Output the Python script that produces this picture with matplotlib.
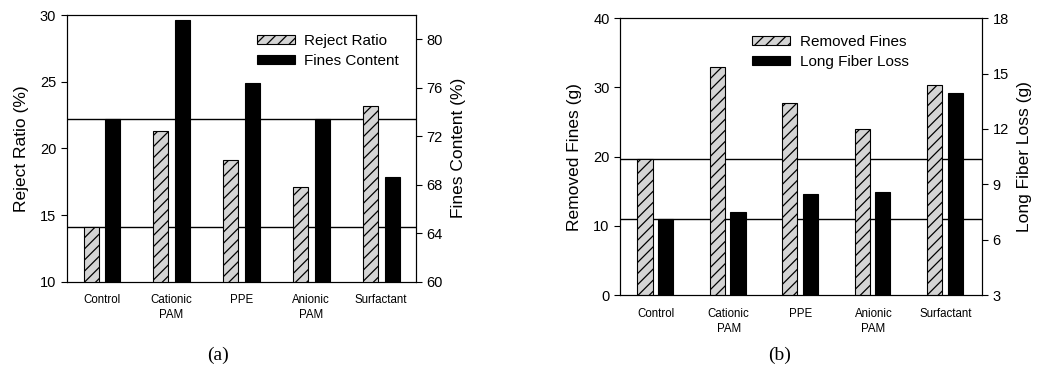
import numpy as np
import matplotlib
matplotlib.use("Agg")
import matplotlib.pyplot as plt

plt.rcParams["font.family"] = ["Liberation Sans", "DejaVu Sans"]
plt.rcParams["hatch.linewidth"] = 0.9

# Data
categories = ["Control", "Cationic\nPAM", "PPE", "Anionic\nPAM", "Surfactant"]
reject_ratio = [14.1, 21.3, 19.1, 17.1, 23.2]        # %, left axis (a)
fines_content = [73.4, 81.6, 76.4, 73.4, 68.6]       # %, right axis (a)
removed_fines = [19.6, 33.0, 27.8, 24.0, 30.3]       # g, left axis (b)
long_fiber_loss = [7.1, 7.5, 8.5, 8.6, 13.95]        # g, right axis (b)

HATCH_FACE = "#d4d4d4"


def draw_panel(rect, left_vals, right_vals, left_lim, right_lim, left_ticks,
               right_ticks, left_label, right_label, names, legend_pos,
               offsets, width):
    fig = plt.gcf()
    ax = fig.add_axes(rect)
    ax2 = ax.twinx()
    x = np.arange(len(categories))

    # reference lines at the control values, both kept behind the bars
    # (the right-axis value is mapped into left-axis units)
    frac = (right_vals[0] - right_lim[0]) / (right_lim[1] - right_lim[0])
    right_in_left = left_lim[0] + frac * (left_lim[1] - left_lim[0])
    ax.axhline(left_vals[0], color="black", lw=1.0, zorder=1)
    ax.axhline(right_in_left, color="black", lw=1.0, zorder=1)

    b1 = ax.bar(x + offsets[0], left_vals, width, color=HATCH_FACE,
                edgecolor="black", hatch="///", lw=0.8, zorder=3,
                label=names[0])
    b2 = ax2.bar(x + offsets[1], right_vals, width, color="black",
                 edgecolor="black", lw=0.8, zorder=3, label=names[1])

    ax.set_xlim(-0.5, len(categories) - 0.5)
    ax.set_ylim(*left_lim)
    ax2.set_ylim(*right_lim)
    ax.set_yticks(left_ticks)
    ax2.set_yticks(right_ticks)
    ax.set_xticks(x)
    ax.set_xticklabels(categories, fontsize=8.3, linespacing=1.35)
    ax.tick_params(axis="x", length=0, pad=9)
    ax.tick_params(axis="y", direction="out", length=4, labelsize=10.5)
    ax2.tick_params(axis="y", direction="out", length=4, labelsize=10.5)
    ax.set_ylabel(left_label, fontsize=12.5, labelpad=8)
    ax2.set_ylabel(right_label, fontsize=12.5, labelpad=6)

    leg = ax.legend([b1, b2], names, loc="upper left",
                    bbox_to_anchor=legend_pos, frameon=False, fontsize=11,
                    handlelength=2.5, handleheight=0.55, handletextpad=0.6,
                    labelspacing=0.4, borderpad=0, borderaxespad=0)
    leg.set_zorder(5)
    return ax, ax2


fig = plt.figure(figsize=(10.37, 3.81), dpi=100)

draw_panel([0.0643, 0.2606, 0.3368, 0.700], reject_ratio, fines_content,
           (10, 30), (60, 82), [10, 15, 20, 25, 30], [60, 64, 68, 72, 76, 80],
           "Reject Ratio (%)", "Fines Content (%)",
           ["Reject Ratio", "Fines Content"], (0.545, 0.93),
           (-0.15, 0.16), 0.215)

draw_panel([0.5979, 0.2257, 0.3491, 0.7262], removed_fines, long_fiber_loss,
           (0, 40), (3, 18), [0, 10, 20, 30, 40], [3, 6, 9, 12, 15, 18],
           "Removed Fines (g)", "Long Fiber Loss (g)",
           ["Removed Fines", "Long Fiber Loss"], (0.365, 0.94),
           (-0.155, 0.13), 0.21)

fig.text(218 / 1037, 1 - 355 / 381, "(a)", ha="center", va="center",
         fontsize=14, family=["Liberation Serif", "DejaVu Serif"])
fig.text(780 / 1037, 1 - 355 / 381, "(b)", ha="center", va="center",
         fontsize=14, family=["Liberation Serif", "DejaVu Serif"])

fig.savefig("out.png", dpi=100)
